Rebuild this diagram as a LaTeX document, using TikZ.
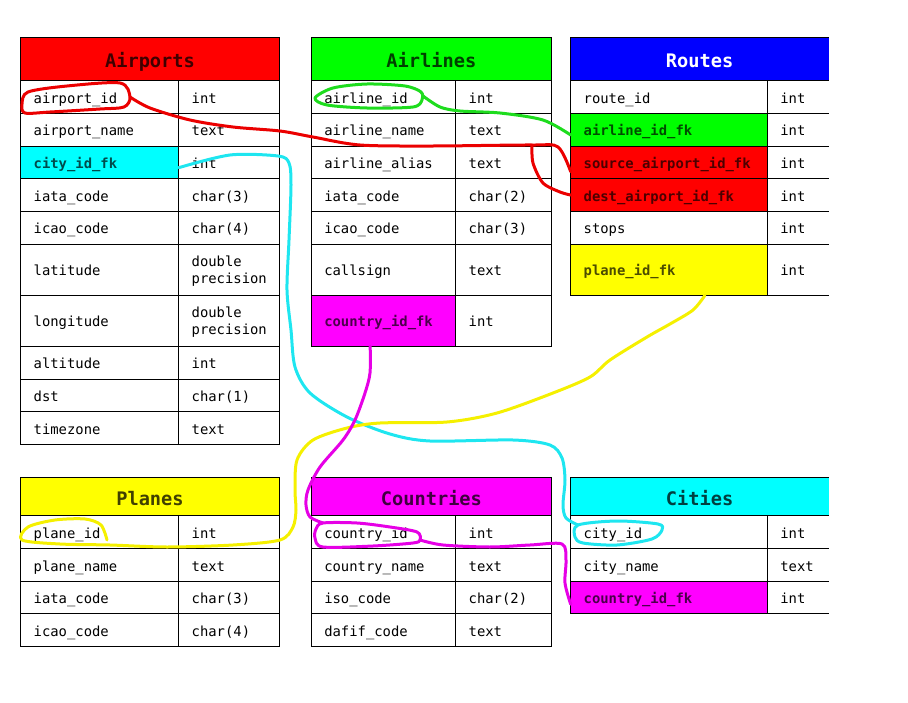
\documentclass[tikz,border=0pt]{standalone}
\usepackage{fontspec}
\newfontfamily\monofont{DejaVu Sans Mono}
\newcommand{\fieldfont}{\monofont\fontsize{10.4}{13}\selectfont}
\newcommand{\keyfont}{\monofont\bfseries\fontsize{10.4}{13}\selectfont}
\newcommand{\headfont}{\monofont\bfseries\fontsize{14}{16}\selectfont}
\definecolor{tabred}{RGB}{255,0,0}
\definecolor{tabgreen}{RGB}{0,255,0}
\definecolor{tabblue}{RGB}{0,0,255}
\definecolor{tabyellow}{RGB}{255,255,0}
\definecolor{tabmagenta}{RGB}{255,0,255}
\definecolor{tabcyan}{RGB}{0,255,255}
\definecolor{sketchred}{RGB}{235,0,0}
\definecolor{sketchgreen}{RGB}{30,220,30}
\definecolor{sketchcyan}{RGB}{30,230,240}
\definecolor{sketchyellow}{RGB}{245,240,0}
\definecolor{sketchmagenta}{RGB}{230,0,230}

\begin{document}
\begin{tikzpicture}[x=0.75pt,y=0.75pt,yscale=-1,xscale=1,
  cell/.style={draw=black, line width=0.75pt, anchor=north west, outer sep=0pt, inner xsep=9.75pt, inner ysep=0pt, minimum height=24.5pt, text height=9.2pt, text depth=0pt, align=left, font=\fieldfont},
  tall/.style={minimum height=38.4pt},
  twoline/.style={text height=8pt, text depth=12.8pt},
  keycell/.style={cell, fill=#1, text=#1!30!black, font=\keyfont},
  opencell/.style={cell, draw=none},
  head/.style={draw=black, line width=0.75pt, anchor=north west, outer sep=0pt, inner sep=0pt, fill=#1, text=#1!25!black, font=\headfont, minimum height=32.55pt, text height=13pt, text depth=0pt},
  colA/.style={text width=99pt}, colAt/.style={text width=55.95pt},
  colB/.style={text width=88.8pt}, colBt/.style={text width=52.35pt},
  colC/.style={text width=127.95pt}, colCt/.style={text width=26.55pt},
  sketch/.style={line width=2.25pt, line cap=round, line join=round}]
\useasboundingbox (0,0) rectangle (908,703);

%Shape: Table Airports
\node [head=tabred, minimum width=193.95pt] (aph) at (20.7,37.3) {Airports};
\node [cell, colA] (ap1) at (aph.south west) {airport\_id};
\node [cell, colAt] (apt1) at (ap1.north east) {int};
\node [cell, colA] (ap2) at (ap1.south west) {airport\_name};
\node [cell, colAt] (apt2) at (ap2.north east) {text};
\node [keycell=tabcyan, colA] (ap3) at (ap2.south west) {city\_id\_fk};
\node [cell, colAt] (apt3) at (ap3.north east) {int};
\node [cell, colA] (ap4) at (ap3.south west) {iata\_code};
\node [cell, colAt] (apt4) at (ap4.north east) {char(3)};
\node [cell, colA] (ap5) at (ap4.south west) {icao\_code};
\node [cell, colAt] (apt5) at (ap5.north east) {char(4)};
\node [cell, tall, colA] (ap6) at (ap5.south west) {latitude};
\node [cell, tall, twoline, colAt] (apt6) at (ap6.north east) {double\\precision};
\node [cell, tall, colA] (ap7) at (ap6.south west) {longitude};
\node [cell, tall, twoline, colAt] (apt7) at (ap7.north east) {double\\precision};
\node [cell, colA] (ap8) at (ap7.south west) {altitude};
\node [cell, colAt] (apt8) at (ap8.north east) {int};
\node [cell, colA] (ap9) at (ap8.south west) {dst};
\node [cell, colAt] (apt9) at (ap9.north east) {char(1)};
\node [cell, colA] (ap10) at (ap9.south west) {timezone};
\node [cell, colAt] (apt10) at (ap10.north east) {text};

%Shape: Table Airlines
\node [head=tabgreen, minimum width=180.15pt] (alh) at (311.3,37.3) {Airlines};
\node [cell, colB] (al1) at (alh.south west) {airline\_id};
\node [cell, colBt] (alt1) at (al1.north east) {int};
\node [cell, colB] (al2) at (al1.south west) {airline\_name};
\node [cell, colBt] (alt2) at (al2.north east) {text};
\node [cell, colB] (al3) at (al2.south west) {airline\_alias};
\node [cell, colBt] (alt3) at (al3.north east) {text};
\node [cell, colB] (al4) at (al3.south west) {iata\_code};
\node [cell, colBt] (alt4) at (al4.north east) {char(2)};
\node [cell, colB] (al5) at (al4.south west) {icao\_code};
\node [cell, colBt] (alt5) at (al5.north east) {char(3)};
\node [cell, tall, colB] (al6) at (al5.south west) {callsign};
\node [cell, tall, colBt] (alt6) at (al6.north east) {text};
\node [keycell=tabmagenta, tall, colB] (al7) at (al6.south west) {country\_id\_fk};
\node [cell, tall, colBt] (alt7) at (al7.north east) {int};

%Shape: Table Routes
\node [head=tabblue, draw=none, text=white, minimum width=193.5pt] (roh) at (570.7,37.3) {Routes};
\node [cell, colC] (ro1) at (roh.south west) {route\_id};
\node [opencell, colCt] (rot1) at (ro1.north east) {int};
\node [keycell=tabgreen, colC] (ro2) at (ro1.south west) {airline\_id\_fk};
\node [opencell, colCt] (rot2) at (ro2.north east) {int};
\node [keycell=tabred, colC] (ro3) at (ro2.south west) {source\_airport\_id\_fk};
\node [opencell, colCt] (rot3) at (ro3.north east) {int};
\node [keycell=tabred, colC] (ro4) at (ro3.south west) {dest\_airport\_id\_fk};
\node [opencell, colCt] (rot4) at (ro4.north east) {int};
\node [cell, colC] (ro5) at (ro4.south west) {stops};
\node [opencell, colCt] (rot5) at (ro5.north east) {int};
\node [keycell=tabyellow, tall, colC] (ro6) at (ro5.south west) {plane\_id\_fk};
\node [opencell, tall, colCt] (rot6) at (ro6.north east) {int};
\draw [line width=0.75pt] (roh.south west) -- (roh.north west) -- (roh.north east);
\foreach \i in {1,...,6} \draw [line width=0.75pt] (rot\i.north west) -- (rot\i.north east) (rot\i.south west) -- (rot\i.south east);

%Shape: Table Planes
\node [head=tabyellow, minimum width=193.95pt, minimum height=29pt] (plh) at (20.7,477.3) {Planes};
\node [cell, colA] (pl1) at (plh.south west) {plane\_id};
\node [cell, colAt] (plt1) at (pl1.north east) {int};
\node [cell, colA] (pl2) at (pl1.south west) {plane\_name};
\node [cell, colAt] (plt2) at (pl2.north east) {text};
\node [cell, colA] (pl3) at (pl2.south west) {iata\_code};
\node [cell, colAt] (plt3) at (pl3.north east) {char(3)};
\node [cell, colA] (pl4) at (pl3.south west) {icao\_code};
\node [cell, colAt] (plt4) at (pl4.north east) {char(4)};

%Shape: Table Countries
\node [head=tabmagenta, minimum width=180.15pt, minimum height=29pt] (coh) at (311.3,477.3) {Countries};
\node [cell, colB] (co1) at (coh.south west) {country\_id};
\node [cell, colBt] (cot1) at (co1.north east) {int};
\node [cell, colB] (co2) at (co1.south west) {country\_name};
\node [cell, colBt] (cot2) at (co2.north east) {text};
\node [cell, colB] (co3) at (co2.south west) {iso\_code};
\node [cell, colBt] (cot3) at (co3.north east) {char(2)};
\node [cell, colB] (co4) at (co3.south west) {dafif\_code};
\node [cell, colBt] (cot4) at (co4.north east) {text};

%Shape: Table Cities
\node [head=tabcyan, draw=none, minimum width=193.5pt, minimum height=29pt] (cih) at (570.7,477.3) {Cities};
\node [cell, colC] (ci1) at (cih.south west) {city\_id};
\node [opencell, colCt] (cit1) at (ci1.north east) {int};
\node [cell, colC] (ci2) at (ci1.south west) {city\_name};
\node [opencell, colCt] (cit2) at (ci2.north east) {text};
\node [keycell=tabmagenta, colC] (ci3) at (ci2.south west) {country\_id\_fk};
\node [opencell, colCt] (cit3) at (ci3.north east) {int};
\draw [line width=0.75pt] (cih.south west) -- (cih.north west) -- (cih.north east);
\foreach \i in {1,...,3} \draw [line width=0.75pt] (cit\i.north west) -- (cit\i.north east) (cit\i.south west) -- (cit\i.south east);

%Curve Lines: airport_id to source / dest
\coordinate (aploop) at (130,97);
\coordinate (redfork) at (532,145);
\coordinate (rosrc) at ([yshift=7pt]ro3.west);
\draw [sketch, sketchred] plot [smooth cycle] coordinates {(22,104) (28,92) (67,86) (120,83) (130,97) (124,107) (100,109) (50,112) (25,113)};
\draw [sketch, sketchred] plot [smooth] coordinates {(aploop) (150,108) (190,120) (233,127) (280,131) (313,137) (360,145) (433,146) (redfork) (558,147) (rosrc)};
\draw [sketch, sketchred] plot [smooth] coordinates {(redfork) (533,163) (543,183) (560,192) (ro4.west)};

%Curve Lines: airline_id to airline_id_fk
\coordinate (alloop) at (423,96);
\coordinate (rogrn) at ([yshift=4pt]ro2.west);
\draw [sketch, sketchgreen] plot [smooth cycle] coordinates {(315,98) (333,88) (367,84) (405,86) (421,92) (422,100) (413,107) (367,108) (327,105)};
\draw [sketch, sketchgreen] plot [smooth] coordinates {(alloop) (440,107) (460,111) (500,113) (543,120) (rogrn)};

%Curve Lines: city_id_fk to city_id
\coordinate (apcity) at ([yshift=4pt]apt3.west);
\coordinate (cityloop) at (578,525);
\draw [sketch, sketchcyan] plot [smooth] coordinates {(apcity) (230,155) (278,156) (289,163) (291,185) (289,240) (287,290) (291,330) (295,367) (310,393) (347,417) (390,434) (430,441) (513,440) (550,445) (562,458) (565,480) (563,505) (566,518) (cityloop)};
\draw [sketch, sketchcyan] plot [smooth cycle] coordinates {(cityloop) (617,521) (658,524) (662,530) (652,539) (617,545) (583,543) (575,537)};

%Curve Lines: plane_id_fk to plane_id
\coordinate (roplane) at ([xshift=27pt]ro6.south);
\coordinate (planeloop) at (107,540);
\draw [sketch, sketchyellow] plot [smooth] coordinates {(roplane) (693,310) (670,324) (647,337) (610,360) (590,377) (553,393) (497,413) (447,422) (380,423) (347,428) (313,440) (297,460) (295,490) (296,510) (293,527) (280,540) (233,545) (167,547) (110,545) (60,544) (22,540) (28,527) (55,520) (85,519) (101,525) (planeloop)};

%Curve Lines: country_id_fk to country_id to country_id_fk
\coordinate (alcountry) at ([xshift=-10pt]al7.south);
\coordinate (coloop) at (323,523);
\coordinate (coright) at (420,540);
\coordinate (cicountry) at ([yshift=5pt]ci3.west);
\draw [sketch, sketchmagenta] plot [smooth] coordinates {(alcountry) (370,373) (365,393) (355,420) (343,440) (320,467) (308,490) (306,505) (310,517) (coloop)};
\draw [sketch, sketchmagenta] plot [smooth cycle] coordinates {(coloop) (357,523) (390,527) (417,532) (coright) (413,543) (373,546) (323,547) (315,538) (316,529)};
\draw [sketch, sketchmagenta] plot [smooth] coordinates {(coright) (443,545) (490,547) (530,545) (562,544) (566,560) (565,583) (cicountry)};

\end{tikzpicture}
\end{document}
